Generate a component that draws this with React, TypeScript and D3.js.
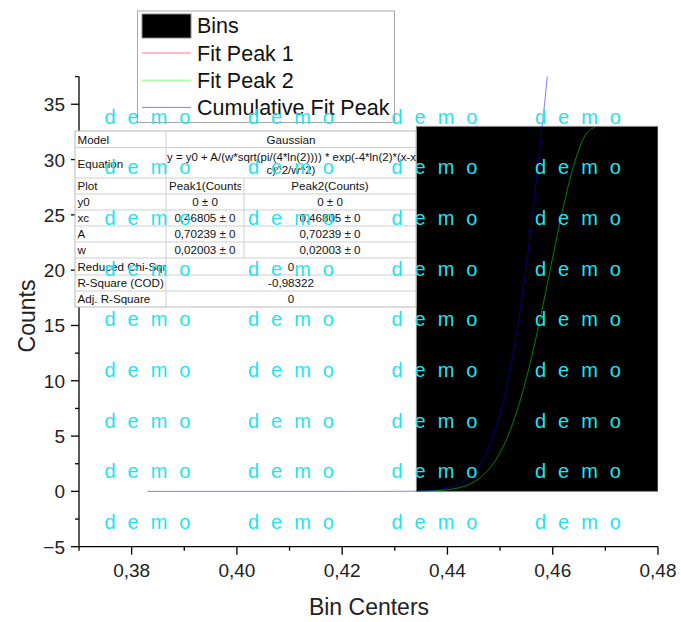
import React, { useEffect, useRef } from 'react';
import * as d3 from 'd3';

// histogram bins
const binLeft = [0.4341];
const binRight = [0.48];
const binCounts = [33];

// fitted curves
const peakX = [0.4345, 0.436, 0.44, 0.442, 0.444, 0.446, 0.448, 0.45, 0.452, 0.454, 0.456, 0.458, 0.46, 0.462, 0.464, 0.466, 0.468];
const peak1Y = [0.02, 0.03, 0.15, 0.31, 0.62, 1.16, 2.08, 3.51, 5.62, 8.5, 12.17, 16.5, 21.17, 25.68, 29.49, 32.04, 32.94];
const peak2Y = [0.02, 0.03, 0.15, 0.31, 0.62, 1.16, 2.08, 3.51, 5.62, 8.5, 12.17, 16.5, 21.17, 25.68, 29.49, 32.04, 32.94];
const cumX = [0.383, 0.42, 0.432, 0.436, 0.44, 0.442, 0.444, 0.446, 0.448, 0.45, 0.452, 0.454, 0.456, 0.458, 0.46, 0.462];
const cumY = [0, 0, 0.01, 0.06, 0.3, 0.62, 1.24, 2.32, 4.16, 7.02, 11.24, 17.0, 24.34, 33.0, 42.34, 51.36];

const xTicks = [0.38, 0.4, 0.42, 0.44, 0.46, 0.48];
const xMinor = [0.37, 0.39, 0.41, 0.43, 0.45, 0.47];
const yTicks = [-5, 0, 5, 10, 15, 20, 25, 30, 35];
const yMinor = [-2.5, 2.5, 7.5, 12.5, 17.5, 22.5, 27.5, 32.5, 37.5];

const legendNames = ['Bins', 'Fit Peak 1', 'Fit Peak 2', 'Cumulative Fit Peak'];
const legendColors = ['#000000', '#ff0000', '#00ff00', '#0000ff'];

const tableLabels = ['Model', 'Equation', 'Plot', 'y0', 'xc', 'A', 'w', 'Reduced Chi-Sqr', 'R-Square (COD)', 'Adj. R-Square'];
const peak1Col = ['', '', 'Peak1(Counts)', '0 ± 0', '0,46805 ± 0', '0,70239 ± 0', '0,02003 ± 0'];
const peak2Col = ['', '', 'Peak2(Counts)', '0 ± 0', '0,46805 ± 0', '0,70239 ± 0', '0,02003 ± 0'];
const mergedVals = ['Gaussian', '', '', '', '', '', '', '0', '-0,98322', '0'];
const equationLines = ['y = y0 + A/(w*sqrt(pi/(4*ln(2)))) * exp(-4*ln(2)*(x-x', 'c)^2/w^2)'];

const FONT = 'Liberation Sans, Arial, Helvetica, sans-serif';

export default function App() {
  const ref = useRef<SVGSVGElement>(null);

  useEffect(() => {
    const svg = d3.select(ref.current);
    svg.selectAll('*').remove();
    svg.style('font-family', FONT);

    const x = d3.scaleLinear().domain([0.37, 0.48]).range([79, 658]);
    const y = d3.scaleLinear().domain([-5, 37.5]).range([546.7, 76.6]);
    const loc = d3.formatLocale({ decimal: ',', thousands: '.', grouping: [3], currency: ['', ''] });
    const fx = loc.format('.2f');

    const defs = svg.append('defs');
    defs.append('clipPath').attr('id', 'plotClip').append('rect')
      .attr('x', x(0.37)).attr('y', y(37.5)).attr('width', x(0.48) - x(0.37)).attr('height', y(-5) - y(37.5));

    const line = (xs: number[], ys: number[]) => d3.line<number>()
      .curve(d3.curveMonotoneX)
      .x((d, i) => x(xs[i]))
      .y((d) => y(d))(ys);

    const plot = svg.append('g').attr('clip-path', 'url(#plotClip)');

    // peak 1 sits under the bins
    plot.append('path').attr('d', line(peakX, peak1Y)).attr('fill', 'none')
      .attr('stroke', legendColors[1]).attr('stroke-opacity', 0.5).attr('stroke-width', 1);

    plot.selectAll('rect.bin').data(binCounts).enter().append('rect')
      .attr('class', 'bin')
      .attr('x', (d, i) => x(binLeft[i]))
      .attr('width', (d, i) => x(binRight[i]) - x(binLeft[i]))
      .attr('y', (d) => y(d))
      .attr('height', (d) => y(0) - y(d))
      .attr('fill', '#000').attr('stroke', '#888').attr('stroke-width', 1);

    plot.append('path').attr('d', line(peakX, peak2Y)).attr('fill', 'none')
      .attr('stroke', legendColors[2]).attr('stroke-opacity', 0.5).attr('stroke-width', 1);
    plot.append('path').attr('d', line(cumX, cumY)).attr('fill', 'none')
      .attr('stroke', legendColors[3]).attr('stroke-opacity', 0.5).attr('stroke-width', 1);

    // axes
    const ax = svg.append('g').attr('stroke', '#000').attr('stroke-width', 1.3);
    ax.append('line').attr('x1', x(0.37)).attr('x2', x(0.48)).attr('y1', y(-5)).attr('y2', y(-5));
    ax.append('line').attr('x1', x(0.37)).attr('x2', x(0.37)).attr('y1', y(-5)).attr('y2', y(37.5));
    xTicks.forEach((t) => ax.append('line').attr('x1', x(t)).attr('x2', x(t)).attr('y1', y(-5)).attr('y2', y(-5) + 8));
    xMinor.forEach((t) => ax.append('line').attr('x1', x(t)).attr('x2', x(t)).attr('y1', y(-5)).attr('y2', y(-5) + 4));
    yTicks.forEach((t) => ax.append('line').attr('x1', x(0.37) - 8).attr('x2', x(0.37)).attr('y1', y(t)).attr('y2', y(t)));
    yMinor.forEach((t) => ax.append('line').attr('x1', x(0.37) - 4).attr('x2', x(0.37)).attr('y1', y(t)).attr('y2', y(t)));

    svg.append('g').selectAll('text').data(xTicks).enter().append('text')
      .attr('x', (d) => x(d)).attr('y', 577).attr('text-anchor', 'middle')
      .attr('font-size', 19).attr('fill', '#222').text((d) => fx(d));
    svg.append('g').selectAll('text').data(yTicks).enter().append('text')
      .attr('x', 65).attr('y', (d) => y(d) + 7).attr('text-anchor', 'end')
      .attr('font-size', 19).attr('fill', '#222').text((d) => (d < 0 ? '\u2212' + Math.abs(d) : String(d)));

    svg.append('text').attr('x', 369).attr('y', 615).attr('text-anchor', 'middle')
      .attr('font-size', 23).attr('fill', '#222').text('Bin Centers');
    svg.append('text').attr('transform', 'translate(35,316) rotate(-90)').attr('text-anchor', 'middle')
      .attr('font-size', 23).attr('fill', '#222').text('Counts');

    // parameter table
    const tX = [75, 166, 244, 416];
    const rowH = [16.5, 30.5, 16, 16, 16, 16, 16, 17, 16, 16];
    const rowY: number[] = [131];
    rowH.forEach((h, i) => rowY.push(rowY[i] + h));
    const tb = svg.append('g').attr('font-size', 11.6).attr('fill', '#111');
    defs.append('clipPath').attr('id', 'tableClip').append('rect')
      .attr('x', tX[0]).attr('y', rowY[0]).attr('width', tX[3] - tX[0]).attr('height', rowY[10] - rowY[0]);
    tb.append('rect').attr('x', tX[0]).attr('y', rowY[0]).attr('width', tX[3] - tX[0]).attr('height', rowY[10] - rowY[0])
      .attr('fill', '#fff').attr('stroke', '#b8b8b8');
    rowY.slice(1, 10).forEach((ry) => tb.append('line').attr('x1', tX[0]).attr('x2', tX[3]).attr('y1', ry).attr('y2', ry).attr('stroke', '#cfcfcf'));
    tb.append('line').attr('x1', tX[1]).attr('x2', tX[1]).attr('y1', rowY[0]).attr('y2', rowY[10]).attr('stroke', '#cfcfcf');
    tb.append('line').attr('x1', tX[2]).attr('x2', tX[2]).attr('y1', rowY[2]).attr('y2', rowY[7]).attr('stroke', '#cfcfcf');

    defs.append('clipPath').attr('id', 'col0Clip').append('rect').attr('x', tX[0]).attr('y', rowY[0]).attr('width', tX[1] - tX[0]).attr('height', rowY[10] - rowY[0]);
    defs.append('clipPath').attr('id', 'col1Clip').append('rect').attr('x', tX[1]).attr('y', rowY[0]).attr('width', tX[2] - tX[1] - 3).attr('height', rowY[10] - rowY[0]);

    tableLabels.forEach((lab, i) => {
      const base = i === 1 ? rowY[i] + 20 : rowY[i + 1] - 4;
      tb.append('text').attr('x', 77.5).attr('y', base).attr('clip-path', 'url(#col0Clip)').text(lab);
    });
    peak1Col.forEach((v, i) => {
      if (!v) return;
      const t = tb.append('text').attr('y', rowY[i + 1] - 4).attr('clip-path', 'url(#col1Clip)').text(v);
      if (i === 2) t.attr('x', tX[1] + 3);
      else t.attr('x', (tX[1] + tX[2]) / 2).attr('text-anchor', 'middle');
    });
    peak2Col.forEach((v, i) => {
      if (!v) return;
      tb.append('text').attr('x', (tX[2] + tX[3]) / 2).attr('y', rowY[i + 1] - 4).attr('text-anchor', 'middle').text(v);
    });
    mergedVals.forEach((v, i) => {
      if (!v) return;
      tb.append('text').attr('x', (tX[1] + tX[3]) / 2).attr('y', rowY[i + 1] - 4).attr('text-anchor', 'middle').text(v);
    });
    tb.append('text').attr('x', tX[1] + 1).attr('y', rowY[1] + 13).attr('clip-path', 'url(#tableClip)')
      .attr('textLength', tX[3] - tX[1] - 1).attr('lengthAdjust', 'spacingAndGlyphs').text(equationLines[0]);
    tb.append('text').attr('x', (tX[1] + tX[3]) / 2).attr('y', rowY[1] + 26).attr('text-anchor', 'middle').text(equationLines[1]);

    // legend
    const lg = svg.append('g');
    lg.append('rect').attr('x', 137.5).attr('y', 11).attr('width', 257).attr('height', 111.5)
      .attr('fill', '#fff').attr('stroke', '#a8a8a8').attr('stroke-width', 1);
    legendNames.forEach((name, i) => {
      const base = 33.3 + i * 27.2;
      if (i === 0) {
        lg.append('rect').attr('x', 142).attr('y', 14).attr('width', 49).attr('height', 24)
          .attr('fill', legendColors[0]).attr('stroke', '#888');
      } else {
        lg.append('line').attr('x1', 142).attr('x2', 191).attr('y1', base - 7.5).attr('y2', base - 7.5)
          .attr('stroke', legendColors[i]).attr('stroke-opacity', 0.5).attr('stroke-width', 1);
      }
      lg.append('text').attr('x', 197).attr('y', base).attr('font-size', 21.5).attr('fill', '#111').text(name);
    });

    // watermark
    const wm = svg.append('g').attr('fill', '#1ee4f0').attr('font-size', 20).attr('letter-spacing', 3.2);
    for (let r = 0; r < 9; r++) {
      for (let c = 0; c < 4; c++) {
        wm.append('text').attr('x', 104.5 + c * 143.5).attr('y', 123.5 + r * 50.7).text('d e m o');
      }
    }
  }, []);

  return (
    <svg ref={ref} width={681} height={622} style={{ position: 'absolute', left: 0, top: 0, background: '#fff' }} />
  );
}
